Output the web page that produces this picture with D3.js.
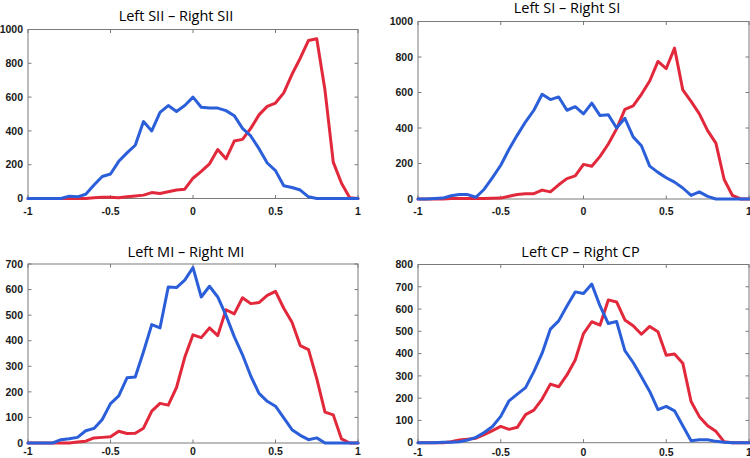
<!DOCTYPE html>
<html>
<head>
<meta charset="utf-8">
<script src="https://cdn.jsdelivr.net/npm/d3@7"></script>
<style>
html,body{margin:0;padding:0;background:#fff;}
svg{display:block;}
</style>
</head>
<body>
<svg id="chart" width="750" height="458"></svg>
<script>
// ---- data ----
const xBins = [-1,-0.95,-0.9,-0.85,-0.8,-0.75,-0.7,-0.65,-0.6,-0.55,-0.5,-0.45,-0.4,-0.35,-0.3,-0.25,-0.2,-0.15,-0.1,-0.05,0,
  0.05,0.1,0.15,0.2,0.25,0.3,0.35,0.4,0.45,0.5,0.55,0.6,0.65,0.7,0.75,0.8,0.85,0.9,0.95,1];

const xTickValues = [-1,-0.5,0,0.5,1];
const xTickLabels = ["-1","-0.5","0","0.5","1"];

const titles = ["Left SII \u2013 Right SII","Left SI \u2013 Right SI","Left MI \u2013 Right MI","Left CP \u2013 Right CP"];
const yMax = [1000,1000,700,800];
const yTicksSII = [0,200,400,600,800,1000];
const yTicksSI = [0,200,400,600,800,1000];
const yTicksMI = [0,100,200,300,400,500,600,700];
const yTicksCP = [0,100,200,300,400,500,600,700,800];

const blueSII = [0,0,0,0,0,14,10,25,80,130,145,220,270,315,455,400,510,550,515,550,600,
  540,535,535,520,490,415,370,295,210,165,75,65,50,10,0,0,0,0,0,0];
const redSII  = [0,0,0,0,0,0,0,0,5,8,8,5,10,15,20,35,30,40,50,55,120,
  160,205,290,235,340,350,415,495,545,565,625,735,830,935,945,640,215,90,5,0];

const blueSI = [0,0,3,5,18,25,25,10,55,120,190,280,360,435,500,590,560,575,500,520,480,
  540,470,475,400,455,350,300,185,150,120,95,62,20,40,15,0,0,0,0,0];
const redSI  = [0,0,0,0,3,3,3,3,3,4,5,15,25,30,30,50,40,80,115,130,195,
  185,240,310,395,505,525,590,665,775,735,850,615,550,480,385,315,110,20,0,0];

const blueMI = [0,0,0,0,13,17,22,48,57,92,154,184,255,258,357,463,450,610,608,637,686,
  571,613,571,499,416,345,262,194,163,144,98,52,30,13,20,0,0,0,0,0];
const redMI  = [0,0,0,0,0,0,4,7,20,22,24,46,37,38,58,125,155,148,217,335,423,
  412,450,420,521,505,568,545,549,577,593,527,472,381,365,252,121,110,16,0,0];

const blueCP = [0,0,0,2,2,4,12,24,46,73,118,188,218,247,319,402,510,547,614,677,670,
  712,614,535,544,413,360,296,230,148,163,143,76,9,13,13,6,2,0,0,0];
const redCP  = [0,0,0,0,4,12,16,20,36,54,73,60,69,126,146,196,263,251,304,371,490,
  543,528,641,632,551,525,487,522,498,393,398,357,185,117,76,51,4,0,0,0];

// ---- layout ----
const panels = [
  {title:titles[0], ymax:yMax[0], yticks:yTicksSII, blue:blueSII, red:redSII,
   box:{l:28, r:358, t:29.5, b:198.5}, titleX:176, titleY:20.5, xLabY:214.5},
  {title:titles[1], ymax:yMax[1], yticks:yTicksSI, blue:blueSI, red:redSI,
   box:{l:418, r:749, t:21.5, b:199}, titleX:567, titleY:12.5, xLabY:215},
  {title:titles[2], ymax:yMax[2], yticks:yTicksMI, blue:blueMI, red:redMI,
   box:{l:28, r:358, t:264, b:443}, titleX:186, titleY:256.5, xLabY:455},
  {title:titles[3], ymax:yMax[3], yticks:yTicksCP, blue:blueCP, red:redCP,
   box:{l:418, r:749, t:264.5, b:442.7}, titleX:580.5, titleY:256.5, xLabY:455.5}
];

const BLUE = "#2b5fd9";
const RED = "#e2283b";
const BOX = "#7a7a7a";
const svg = d3.select("#chart");

panels.forEach(p => {
  const x = d3.scaleLinear().domain([-1,1]).range([p.box.l, p.box.r]);
  const y = d3.scaleLinear().domain([0,p.ymax]).range([p.box.b, p.box.t]);
  const g = svg.append("g");

  // box
  g.append("rect")
    .attr("x", p.box.l).attr("y", p.box.t)
    .attr("width", p.box.r - p.box.l).attr("height", p.box.b - p.box.t)
    .attr("fill","none").attr("stroke",BOX).attr("stroke-width",1);

  // ticks (inward, on all four sides)
  const tl = 3.5;
  xTickValues.forEach(v => {
    g.append("line").attr("x1",x(v)).attr("x2",x(v)).attr("y1",p.box.b).attr("y2",p.box.b - tl)
      .attr("stroke",BOX).attr("stroke-width",1);
    g.append("line").attr("x1",x(v)).attr("x2",x(v)).attr("y1",p.box.t).attr("y2",p.box.t + tl)
      .attr("stroke",BOX).attr("stroke-width",1);
  });
  p.yticks.forEach(v => {
    g.append("line").attr("x1",p.box.l).attr("x2",p.box.l + tl).attr("y1",y(v)).attr("y2",y(v))
      .attr("stroke",BOX).attr("stroke-width",1);
    g.append("line").attr("x1",p.box.r).attr("x2",p.box.r - tl).attr("y1",y(v)).attr("y2",y(v))
      .attr("stroke",BOX).attr("stroke-width",1);
  });

  // tick labels
  xTickValues.forEach((v,i) => {
    g.append("text").attr("x", x(v)).attr("y", p.xLabY)
      .attr("text-anchor","middle")
      .attr("font-family","'Liberation Sans', Arial, sans-serif")
      .attr("font-weight","bold").attr("font-size","10.5px").attr("fill","#1a1a1a")
      .text(xTickLabels[i]);
  });
  p.yticks.forEach(v => {
    g.append("text").attr("x", p.box.l - 5).attr("y", y(v)).attr("dy","0.36em")
      .attr("text-anchor","end")
      .attr("font-family","'Liberation Sans', Arial, sans-serif")
      .attr("font-weight","bold").attr("font-size","10.5px").attr("fill","#1a1a1a")
      .text(String(v));
  });

  // title
  g.append("text").attr("x", p.titleX).attr("y", p.titleY)
    .attr("text-anchor","middle")
    .attr("font-family","'Open Sans', 'Noto Sans', sans-serif")
    .attr("font-size","14.5px").attr("fill","#000")
    .text(p.title);

  // lines
  const line = d3.line().x((d,i) => x(xBins[i])).y(d => y(d));
  g.append("path").datum(p.red).attr("d", line)
    .attr("fill","none").attr("stroke",RED).attr("stroke-width",3)
    .attr("stroke-linejoin","round").attr("stroke-linecap","round");
  g.append("path").datum(p.blue).attr("d", line)
    .attr("fill","none").attr("stroke",BLUE).attr("stroke-width",3)
    .attr("stroke-linejoin","round").attr("stroke-linecap","round");
});
</script>
</body>
</html>
